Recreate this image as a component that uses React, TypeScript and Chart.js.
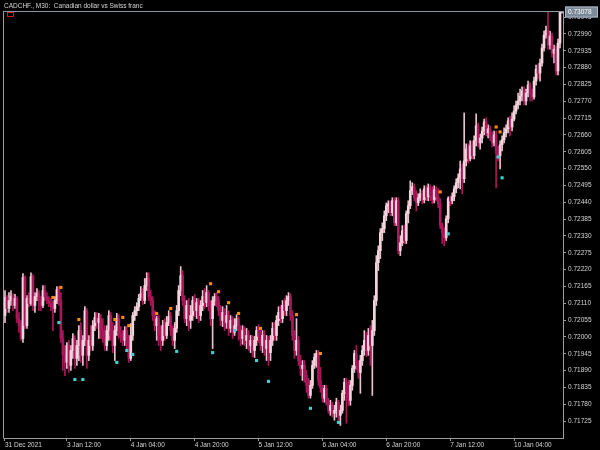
import React, { useEffect, useRef } from "react";
import { Chart, registerables } from "chart.js";

Chart.register(...registerables);

const TITLE = "CADCHF., M30:  Canadian dollar vs Swiss franc";
const LAST_PRICE = 0.73078;
const FIRST_OPEN = 0.7207;

const closes = [
  0.72129, 0.72093, 0.72119, 0.72132, 0.72103, 0.72126, 0.7206, 0.72037, 0.71995, 0.72194,
  0.72037, 0.72126, 0.72109, 0.72197, 0.72103, 0.72132, 0.72142, 0.72119, 0.72103, 0.72152,
  0.72132, 0.72119, 0.72109, 0.72099, 0.72093, 0.72119, 0.72155, 0.72119, 0.71995, 0.7194,
  0.71917, 0.71972, 0.71907, 0.71956, 0.71995, 0.7193, 0.71972, 0.72021, 0.7194, 0.71989,
  0.72086, 0.7194, 0.71989, 0.71972, 0.72037, 0.72064, 0.72047, 0.7206, 0.72021, 0.71995,
  0.71972, 0.72021, 0.7207, 0.72005, 0.71972, 0.72021, 0.7206, 0.72011, 0.72002, 0.71989,
  0.72021, 0.71972, 0.7193, 0.72005, 0.7207, 0.72086, 0.72099, 0.72126, 0.72142, 0.72119,
  0.72168, 0.72191, 0.72132, 0.72119, 0.7207, 0.72037, 0.7206, 0.72005, 0.71989, 0.72037,
  0.72005, 0.72047, 0.72067, 0.72021, 0.71989, 0.72028, 0.72086, 0.72152, 0.722, 0.72119,
  0.7206, 0.72103, 0.72054, 0.7207, 0.72119, 0.72086, 0.72112, 0.7207, 0.72103, 0.72132,
  0.72112, 0.72145, 0.72103, 0.7206, 0.72119, 0.72132, 0.72119, 0.72086, 0.72054, 0.7208,
  0.72047, 0.7207, 0.72028, 0.72054, 0.72015, 0.72037, 0.7206, 0.72021, 0.71995, 0.72021,
  0.71989, 0.72005, 0.71972, 0.71989, 0.71956, 0.71989, 0.72021, 0.72002, 0.71972, 0.72005,
  0.71962, 0.71989, 0.71949, 0.71989, 0.72028, 0.72005, 0.72054, 0.7208, 0.7206, 0.72103,
  0.72086, 0.72119, 0.72132, 0.7207, 0.72005, 0.71956, 0.71989, 0.71923, 0.71897, 0.71907,
  0.71874, 0.71842, 0.71809, 0.71842, 0.71907, 0.71933, 0.71946, 0.71858, 0.71835, 0.718,
  0.71832, 0.71783, 0.7176, 0.71777, 0.71751, 0.7176, 0.71787, 0.71744, 0.7176, 0.71816,
  0.71852, 0.71819, 0.71793, 0.71842, 0.71897, 0.71946, 0.71907, 0.71884, 0.71923, 0.71956,
  0.71989, 0.71956, 0.72005, 0.71972, 0.72021, 0.72119, 0.72243, 0.72282, 0.72341, 0.72354,
  0.72396, 0.72429, 0.72435, 0.72406, 0.72445, 0.72373, 0.72445, 0.72282, 0.72308, 0.72347,
  0.72315, 0.72403, 0.72429, 0.72478, 0.72491, 0.72455, 0.72438, 0.72455, 0.72468, 0.72448,
  0.72484, 0.72458, 0.72487, 0.72461, 0.72448, 0.72481, 0.72458, 0.72435, 0.72364, 0.72341,
  0.72324, 0.72386, 0.72452, 0.72445, 0.72458, 0.72484, 0.72504, 0.7252, 0.72549, 0.72517,
  0.72575, 0.72614, 0.72582, 0.72624, 0.72592, 0.72641, 0.7269, 0.72634, 0.7265, 0.72673,
  0.72703, 0.72667, 0.7268, 0.72654, 0.72634, 0.7266, 0.72601, 0.72592, 0.72628, 0.72644,
  0.72667, 0.7268, 0.72706, 0.72686, 0.72712, 0.72738, 0.72758, 0.72771, 0.72787, 0.72804,
  0.72771, 0.72797, 0.72823, 0.72794, 0.72784, 0.72836, 0.72875, 0.72862, 0.72895, 0.72944,
  0.72986, 0.73002, 0.72954, 0.72983, 0.72927, 0.7294, 0.72869, 0.7296, 0.7307, 0.73078,
];

const highs = [
  0.72152, 0.72135, 0.72145, 0.72152, 0.72142, 0.72139, 0.72132, 0.7208, 0.72054, 0.72207,
  0.722, 0.72135, 0.72145, 0.7221, 0.72204, 0.72145, 0.72158, 0.72152, 0.72132, 0.72168,
  0.72168, 0.72145, 0.72132, 0.72126, 0.72119, 0.72132, 0.72165, 0.72165, 0.72145, 0.72021,
  0.71972, 0.71982, 0.71989, 0.71972, 0.72011, 0.72005, 0.71989, 0.72037, 0.72047, 0.72005,
  0.72099, 0.72093, 0.72005, 0.72037, 0.72054, 0.7208, 0.7208, 0.72077, 0.72073, 0.7206,
  0.72037, 0.72037, 0.72086, 0.7208, 0.72047, 0.72037, 0.72077, 0.72073, 0.72034, 0.72021,
  0.72034, 0.72034, 0.72005, 0.72044, 0.7208, 0.72099, 0.72112, 0.72139, 0.72165, 0.72158,
  0.72191, 0.7221, 0.7221, 0.72152, 0.72132, 0.72086, 0.72068, 0.7207, 0.72037, 0.72054,
  0.7206, 0.72067, 0.72086, 0.7208, 0.72037, 0.72047, 0.72103, 0.72168, 0.7223, 0.72217,
  0.72135, 0.72119, 0.72126, 0.72103, 0.72132, 0.72139, 0.72126, 0.72126, 0.72119, 0.72152,
  0.72158, 0.72168, 0.72152, 0.72119, 0.72132, 0.72142, 0.72145, 0.72132, 0.72103, 0.72099,
  0.72093, 0.72103, 0.72086, 0.7207, 0.72067, 0.7206, 0.72073, 0.72067, 0.72037, 0.72037,
  0.72034, 0.72028, 0.72021, 0.72005, 0.72005, 0.72002, 0.72034, 0.72041, 0.72021, 0.72021,
  0.72021, 0.72005, 0.72002, 0.72005, 0.72047, 0.72047, 0.7207, 0.72099, 0.72103, 0.72119,
  0.72126, 0.72135, 0.72145, 0.72142, 0.72086, 0.72021, 0.7206, 0.72002, 0.7194, 0.71923,
  0.71923, 0.71891, 0.71865, 0.71858, 0.71923, 0.71946, 0.71956, 0.71956, 0.71901, 0.71842,
  0.71842, 0.71842, 0.718, 0.71793, 0.71787, 0.71777, 0.718, 0.71793, 0.71777, 0.71826,
  0.71865, 0.71865, 0.71858, 0.71858, 0.71907, 0.71956, 0.71972, 0.71923, 0.7194, 0.71972,
  0.72021, 0.72015, 0.72028, 0.72037, 0.72054, 0.72135, 0.72266, 0.72298, 0.72354, 0.72373,
  0.72412, 0.72438, 0.72445, 0.72445, 0.72455, 0.72455, 0.72455, 0.72455, 0.72331, 0.72364,
  0.72364, 0.72412, 0.72445, 0.7251, 0.72504, 0.725, 0.72478, 0.72468, 0.72484, 0.72478,
  0.72494, 0.72494, 0.725, 0.72497, 0.72491, 0.72494, 0.72491, 0.72484, 0.72452, 0.72373,
  0.72357, 0.72396, 0.72458, 0.72461, 0.72471, 0.72494, 0.72517, 0.72533, 0.72575, 0.72566,
  0.72732, 0.72631, 0.72631, 0.72641, 0.72641, 0.72657, 0.72729, 0.72699, 0.72663, 0.72686,
  0.72712, 0.72716, 0.72693, 0.7269, 0.7267, 0.72673, 0.72673, 0.72624, 0.72641, 0.72657,
  0.72683, 0.72693, 0.72716, 0.72722, 0.72732, 0.72755, 0.72771, 0.72797, 0.7281, 0.72817,
  0.72817, 0.7281, 0.72836, 0.7283, 0.7281, 0.72849, 0.72888, 0.72892, 0.72908, 0.72957,
  0.72999, 0.73016, 0.73074, 0.72999, 0.72993, 0.72954, 0.7295, 0.72973, 0.73085, 0.73085,
];

const lows = [
  0.72047, 0.7208, 0.7208, 0.72103, 0.72086, 0.72093, 0.72047, 0.72015, 0.71989, 0.71982,
  0.72028, 0.72028, 0.72099, 0.72103, 0.72086, 0.7208, 0.72119, 0.72086, 0.72086, 0.72096,
  0.72119, 0.72109, 0.72099, 0.72086, 0.72021, 0.7208, 0.72109, 0.72103, 0.71982, 0.71891,
  0.71874, 0.71897, 0.71884, 0.71891, 0.7193, 0.71897, 0.71907, 0.71923, 0.71917, 0.71907,
  0.71972, 0.71897, 0.71923, 0.71956, 0.71956, 0.72021, 0.72028, 0.71995, 0.71995, 0.71982,
  0.71956, 0.71956, 0.71989, 0.71989, 0.71949, 0.71923, 0.72005, 0.71995, 0.71982, 0.71972,
  0.71972, 0.71956, 0.71917, 0.71923, 0.71989, 0.72054, 0.7207, 0.72086, 0.72119, 0.72106,
  0.72109, 0.72152, 0.72119, 0.72103, 0.72054, 0.72021, 0.71989, 0.71972, 0.71956, 0.71972,
  0.71989, 0.71995, 0.72037, 0.72005, 0.71972, 0.71962, 0.72015, 0.7207, 0.72135, 0.72103,
  0.72047, 0.72037, 0.72021, 0.72028, 0.72054, 0.72067, 0.7206, 0.72047, 0.72054, 0.72086,
  0.72093, 0.72099, 0.72086, 0.72037, 0.71962, 0.72103, 0.72099, 0.7207, 0.72037, 0.72034,
  0.72021, 0.72028, 0.72005, 0.72015, 0.71995, 0.72005, 0.72021, 0.71989, 0.71972, 0.71976,
  0.71972, 0.71962, 0.71956, 0.71949, 0.71936, 0.71933, 0.71972, 0.71982, 0.71956, 0.71949,
  0.7194, 0.71923, 0.71907, 0.71923, 0.71972, 0.71989, 0.71989, 0.72037, 0.72047, 0.72047,
  0.7207, 0.7207, 0.72103, 0.72054, 0.71989, 0.7193, 0.7194, 0.71907, 0.71874, 0.71858,
  0.71852, 0.71819, 0.718, 0.718, 0.71832, 0.71897, 0.71901, 0.71842, 0.71819, 0.71787,
  0.71787, 0.71777, 0.71751, 0.71744, 0.71738, 0.71728, 0.71738, 0.71728, 0.71711, 0.71751,
  0.71793, 0.71718, 0.71777, 0.71777, 0.71826, 0.71884, 0.71891, 0.71865, 0.71816, 0.71907,
  0.7194, 0.71936, 0.7194, 0.71907, 0.71809, 0.72005, 0.72103, 0.72217, 0.72256, 0.72315,
  0.72341, 0.7238, 0.72406, 0.72396, 0.72396, 0.72364, 0.72364, 0.72272, 0.72266, 0.72298,
  0.72305, 0.72305, 0.72373, 0.72419, 0.72465, 0.72445, 0.72412, 0.72429, 0.72445, 0.72435,
  0.72438, 0.72445, 0.72445, 0.72445, 0.72435, 0.72438, 0.72445, 0.72422, 0.72354, 0.72305,
  0.72298, 0.72315, 0.72373, 0.72429, 0.72435, 0.72445, 0.72471, 0.72487, 0.72484, 0.72468,
  0.72504, 0.72559, 0.72569, 0.72575, 0.72582, 0.72582, 0.72624, 0.72621, 0.72614, 0.72634,
  0.7266, 0.72657, 0.7265, 0.72641, 0.72621, 0.72624, 0.72487, 0.72575, 0.72549, 0.72608,
  0.72634, 0.72654, 0.72667, 0.72657, 0.72673, 0.72706, 0.72729, 0.72745, 0.72758, 0.72771,
  0.72758, 0.72758, 0.72784, 0.72771, 0.72771, 0.72777, 0.72823, 0.72843, 0.72836, 0.72885,
  0.72934, 0.72976, 0.7294, 0.7294, 0.72914, 0.72895, 0.72856, 0.72856, 0.72944, 0.73058,
];

// indicator marks above highs (orange) and below lows (cyan)
const upperMarkBars = [24, 28, 37, 55, 59, 62, 76, 83, 103, 107, 112, 117, 128, 146, 158, 218, 246, 248];
const upperMarkPrices = [
  0.72129, 0.72162, 0.72057, 0.72057, 0.72064, 0.72037, 0.72077, 0.72093, 0.72174, 0.72148,
  0.72112, 0.72077, 0.72028, 0.72073, 0.71946, 0.72474, 0.72686, 0.7267,
];
const lowerMarkBars = [27, 35, 39, 56, 61, 64, 86, 104, 115, 126, 132, 153, 167, 222, 247, 249];
const lowerMarkPrices = [
  0.72047, 0.71861, 0.71861, 0.71917, 0.71956, 0.71943, 0.71953, 0.71949, 0.72021, 0.71923,
  0.71855, 0.71767, 0.71721, 0.72337, 0.72588, 0.7252,
];

// trading sessions (M30 bars)
const sessionDays = ["31 Dec", "3 Jan", "4 Jan", "5 Jan", "6 Jan", "7 Jan", "10 Jan"];
const sessionFirstSlot = [41, 0, 0, 0, 0, 0, 0];
const sessionBarCount = [7, 48, 48, 48, 48, 48, 33];

const xTickTimes = [
  "31 Dec 20:30", "3 Jan 12:00", "4 Jan 04:00", "4 Jan 20:00", "5 Jan 12:00",
  "6 Jan 04:00", "6 Jan 20:00", "7 Jan 12:00", "10 Jan 04:00",
];
const xTickTexts = [
  "31 Dec 2021", "3 Jan 12:00", "4 Jan 04:00", "4 Jan 20:00", "5 Jan 12:00",
  "6 Jan 04:00", "6 Jan 20:00", "7 Jan 12:00", "10 Jan 04:00",
];

const yTickValues = [
  0.73045, 0.7299, 0.72935, 0.7288, 0.72825, 0.7277, 0.72715, 0.7266, 0.72605, 0.7255,
  0.72495, 0.7244, 0.72385, 0.7233, 0.72275, 0.7222, 0.72165, 0.7211, 0.72055, 0.72,
  0.71945, 0.7189, 0.71835, 0.7178, 0.71725,
];
const Y_MIN = 0.7167;
const Y_MAX = 0.73065;

const BULL = "#f3d6dd";
const BEAR = "#a8185a";
const BULL_WICK = "#e9c3cd";
const BEAR_WICK = "#a8185a";
const AXIS = "#9c9c9c";
const TEXT = "#d4d4d4";
const FONT = "'Liberation Sans', Arial, sans-serif";

function pad2(n: number) {
  return n < 10 ? "0" + n : "" + n;
}

const barLabels: string[] = [];
sessionDays.forEach((d, k) => {
  for (let j = 0; j < sessionBarCount[k]; j++) {
    const slot = sessionFirstSlot[k] + j;
    barLabels.push(`${d} ${pad2(Math.floor(slot / 2))}:${slot % 2 ? "30" : "00"}`);
  }
});

const opens = closes.map((c, i) => (i === 0 ? FIRST_OPEN : closes[i - 1]));

const tickTextByIndex = new Map<number, string>();
xTickTimes.forEach((t, k) => {
  const idx = barLabels.indexOf(t);
  if (idx >= 0) tickTextByIndex.set(idx, xTickTexts[k]);
});

function sparse(bars: number[], prices: number[]) {
  const arr: (number | null)[] = barLabels.map(() => null);
  bars.forEach((b, k) => {
    arr[b] = prices[k];
  });
  return arr;
}

const decorPlugin = {
  id: "decor",
  afterDraw(chart: any) {
    const { ctx, chartArea: a } = chart;
    ctx.save();
    ctx.lineWidth = 1;
    ctx.strokeStyle = AXIS;
    ctx.beginPath();
    ctx.moveTo(a.left - 0.5, a.top);
    ctx.lineTo(a.left - 0.5, a.bottom + 0.5);
    ctx.stroke();
    ctx.strokeStyle = "#8796a5";
    ctx.beginPath();
    ctx.moveTo(a.left - 1, a.top + 0.5);
    ctx.lineTo(a.right, a.top + 0.5);
    ctx.stroke();
    ctx.fillStyle = TEXT;
    ctx.font = `6.5px ${FONT}`;
    ctx.textBaseline = "alphabetic";
    ctx.textAlign = "left";
    ctx.fillText(TITLE, 4, 8);
    ctx.strokeStyle = "#d01818";
    ctx.strokeRect(a.left + 3.5, a.top + 1.5, 6, 4);
    const yPix = chart.scales.y.getPixelForValue(LAST_PRICE);
    const cy = Math.max(yPix, a.top + 1);
    ctx.fillStyle = "#7b8a99";
    ctx.fillRect(a.right + 2, cy - 5.5, 33, 11);
    ctx.strokeStyle = "#a9b6c3";
    ctx.strokeRect(a.right + 2.5, cy - 5, 32, 10);
    ctx.fillStyle = "#ffffff";
    ctx.textBaseline = "middle";
    ctx.fillText(LAST_PRICE.toFixed(5), a.right + 5, cy + 0.5);
    ctx.restore();
  },
};

export default function App() {
  const ref = useRef<HTMLCanvasElement>(null);
  useEffect(() => {
    document.body.style.margin = "0";
    document.body.style.background = "#000";
    const bull = closes.map((c, i) => c >= opens[i]);
    const chart = new Chart(ref.current as HTMLCanvasElement, {
      type: "bar",
      data: {
        labels: barLabels,
        datasets: [
          {
            type: "line",
            data: sparse(upperMarkBars, upperMarkPrices),
            showLine: false,
            pointStyle: "rect",
            pointRadius: 2.2,
            pointBorderWidth: 0,
            pointBackgroundColor: "#ff8c00",
            order: -1,
            clip: 0,
          } as any,
          {
            type: "line",
            data: sparse(lowerMarkBars, lowerMarkPrices),
            showLine: false,
            pointStyle: "rect",
            pointRadius: 2.2,
            pointBorderWidth: 0,
            pointBackgroundColor: "#3fd2d2",
            order: -1,
            clip: 0,
          } as any,
          {
            type: "bar",
            data: opens.map((o, i) => [o, closes[i]]),
            backgroundColor: bull.map((b) => (b ? BULL : BEAR)),
            borderWidth: 0,
            barThickness: 2,
            minBarLength: 1,
            grouped: false,
            order: 0,
            clip: 0,
          } as any,
          {
            type: "bar",
            data: lows.map((l, i) => [l, highs[i]]),
            backgroundColor: bull.map((b) => (b ? BULL_WICK : BEAR_WICK)),
            borderWidth: 0,
            barThickness: 1,
            grouped: false,
            order: 1,
            clip: 0,
          } as any,
        ],
      },
      options: {
        responsive: false,
        animation: false,
        devicePixelRatio: 1,
        events: [],
        layout: { padding: { top: 11, left: 3, right: 0, bottom: 0 } },
        plugins: {
          legend: { display: false },
          tooltip: { enabled: false },
          title: { display: false },
        },
        scales: {
          x: {
            type: "category",
            offset: true,
            grid: {
              display: true,
              drawOnChartArea: false,
              drawTicks: true,
              tickLength: 3,
              color: AXIS,
              offset: false,
            },
            border: { display: true, color: AXIS },
            ticks: {
              autoSkip: false,
              maxRotation: 0,
              minRotation: 0,
              align: "start",
              padding: 0,
              color: TEXT,
              font: { family: FONT, size: 6.5 },
              callback: (v: any) => tickTextByIndex.get(Number(v)) ?? "",
            },
            afterBuildTicks: (s: any) => {
              s.ticks = Array.from(tickTextByIndex.keys()).map((i) => ({ value: i }));
            },
            afterFit: (s: any) => {
              s.height = 12;
            },
          },
          y: {
            type: "linear",
            position: "right",
            min: Y_MIN,
            max: Y_MAX,
            grid: {
              display: true,
              drawOnChartArea: false,
              drawTicks: true,
              tickLength: 3,
              color: AXIS,
            },
            border: { display: true, color: AXIS },
            ticks: {
              padding: 2,
              color: TEXT,
              font: { family: FONT, size: 6.5 },
              callback: (v: any) => Number(v).toFixed(5),
            },
            afterBuildTicks: (s: any) => {
              s.ticks = yTickValues.map((v) => ({ value: v }));
            },
            afterFit: (s: any) => {
              s.width = 37;
            },
          },
        },
      } as any,
      plugins: [decorPlugin],
    });
    return () => chart.destroy();
  }, []);
  return (
    <div style={{ width: 600, height: 450, background: "#000" }}>
      <canvas ref={ref} width={600} height={450} style={{ display: "block", width: 600, height: 450 }} />
    </div>
  );
}
